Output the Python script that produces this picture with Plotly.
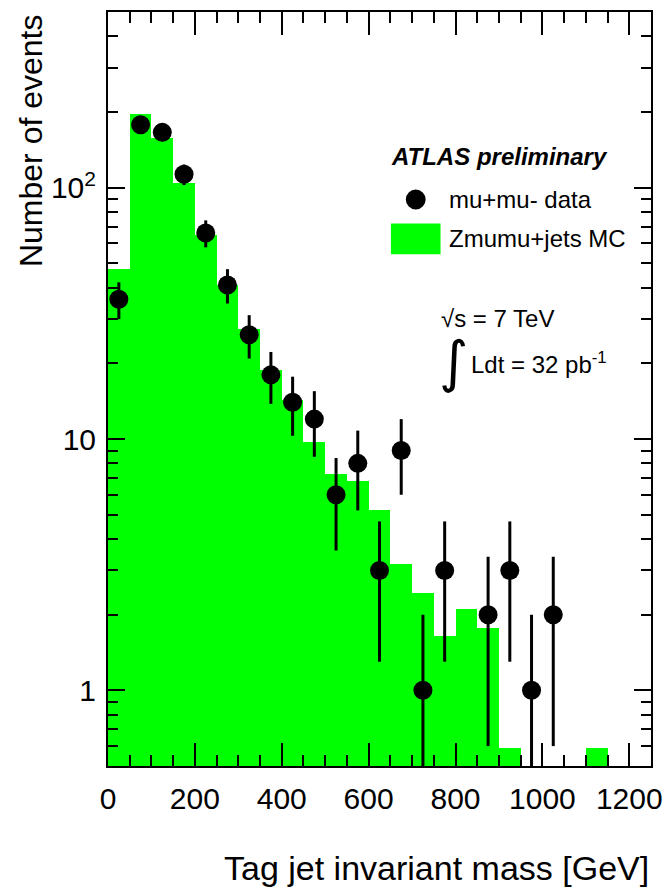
import plotly.graph_objects as go

# ---- data ----
bin_centers = [25, 75, 125, 175, 225, 275, 325, 375, 425, 475, 525, 575, 625,
               675, 725, 775, 825, 875, 925, 975, 1025, 1075, 1125, 1175, 1225]
mc_counts = [47.3, 197, 158, 104, 64.7, 40.9, 27.5, 18.8, 14.3, 9.7, 7.25, 6.83, 5.24,
             3.18, 2.45, 1.64, 2.11, 1.77, 0.588, 0, 0, 0, 0.588, 0, 0]

data_x = [25, 75, 125, 175, 225, 275, 325, 375, 425, 475, 525, 575, 625,
          675, 725, 775, 875, 925, 975, 1025]
data_y = [36, 178, 166, 113, 66, 41, 26, 18, 14, 12, 6, 8, 3,
          9, 1, 3, 2, 3, 1, 2]
data_err = [6.0, 13.3, 12.9, 10.6, 8.1, 6.4, 5.1, 4.2, 3.7, 3.5, 2.4, 2.8, 1.7,
            3.0, 1.0, 1.7, 1.4, 1.7, 1.0, 1.4]

x_tickvals = [0, 200, 400, 600, 800, 1000, 1200]
x_ticktext = ["0", "200", "400", "600", "800", "1000", "1200"]
y_tickvals = [1, 10, 100]
y_ticktext = ["1", "10", "10<sup>2</sup>"]
y_minor = [0.6, 0.7, 0.8, 0.9, 2, 3, 4, 5, 6, 7, 8, 9,
           20, 30, 40, 50, 60, 70, 80, 90, 200, 300, 400]

FONT = "Liberation Sans, Arial, Helvetica, sans-serif"
GREEN = "#00ff00"

fig = go.Figure()
fig.add_trace(go.Bar(x=bin_centers, y=mc_counts, width=50,
                     marker=dict(color=GREEN, line=dict(width=0)),
                     showlegend=False, hoverinfo="skip"))
fig.add_trace(go.Scatter(x=data_x, y=data_y, mode="markers",
                         marker=dict(color="black", size=19),
                         error_y=dict(type="data", array=data_err, visible=True,
                                      color="black", thickness=3, width=0),
                         showlegend=False))

fig.update_layout(
    width=672, height=892,
    margin=dict(l=108, r=17, t=10, b=126),
    paper_bgcolor="white", plot_bgcolor="white",
    bargap=0, showlegend=False,
    font=dict(family=FONT, color="black", size=30),
)
fig.update_xaxes(range=[0, 1250], showline=True, linecolor="black", linewidth=2,
                 mirror="ticks", ticks="inside", ticklen=23, tickwidth=1.5,
                 tickcolor="black", tickmode="array", tickvals=x_tickvals,
                 ticktext=x_ticktext, showgrid=False, zeroline=False,
                 tickfont=dict(size=30), ticklabelstandoff=5,
                 minor=dict(dtick=50, ticks="inside", ticklen=11, tickwidth=1.5,
                            tickcolor="black", showgrid=False))
fig.update_yaxes(type="log", range=[-0.30103, 2.69897], showline=True,
                 linecolor="black", linewidth=2, mirror="ticks", ticks="inside",
                 ticklen=17, tickwidth=1.5, tickcolor="black", tickmode="array",
                 tickvals=y_tickvals, ticktext=y_ticktext, showgrid=False,
                 zeroline=False, tickfont=dict(size=30), ticklabelstandoff=4,
                 minor=dict(tickvals=y_minor, ticks="inside", ticklen=10,
                            tickwidth=1.5, tickcolor="black", showgrid=False))

def px(x):
    return (x - 108) / 547

def py(y):
    return (766 - y) / 756

ann = []
ann.append(dict(text="Tag jet invariant mass [GeV]", x=1.0, y=py(868), xref="paper",
                yref="paper", xanchor="right", yanchor="middle", showarrow=False,
                font=dict(size=34)))
ann.append(dict(text="Number of events", x=px(30), y=1.0, xref="paper", yref="paper",
                xanchor="center", yanchor="top", textangle=-90, showarrow=False,
                font=dict(size=32)))
ann.append(dict(text="<b><i>ATLAS preliminary</i></b>", x=px(391), y=py(155),
                xref="paper", yref="paper", xanchor="left", yanchor="middle",
                showarrow=False, font=dict(size=24)))
ann.append(dict(text="mu+mu- data", x=px(449), y=py(198), xref="paper", yref="paper",
                xanchor="left", yanchor="middle", showarrow=False, font=dict(size=24)))
ann.append(dict(text="Zmumu+jets MC", x=px(449), y=py(237), xref="paper", yref="paper",
                xanchor="left", yanchor="middle", showarrow=False, font=dict(size=24)))
ann.append(dict(text="√s = 7 TeV", x=px(441), y=py(317), xref="paper", yref="paper",
                xanchor="left", yanchor="middle", showarrow=False, font=dict(size=24)))
ann.append(dict(text="∫", x=px(456), y=py(360), xref="paper", yref="paper",
                xanchor="center", yanchor="middle", showarrow=False,
                font=dict(size=56, family="DejaVu Sans")))
ann.append(dict(text="Ldt = 32 pb<sup>-1</sup>", x=px(472), y=py(362), xref="paper",
                yref="paper", xanchor="left", yanchor="middle", showarrow=False,
                font=dict(size=24)))
fig.update_layout(annotations=ann)

shapes = []
shapes.append(dict(type="circle", xref="paper", yref="paper",
                   x0=px(408), x1=px(428), y0=py(208), y1=py(188),
                   fillcolor="black", line=dict(width=0)))
shapes.append(dict(type="rect", xref="paper", yref="paper",
                   x0=px(393), x1=px(443), y0=py(253), y1=py(222),
                   fillcolor=GREEN, line=dict(width=0)))
fig.update_layout(shapes=shapes)

fig.write_html("out.html")
